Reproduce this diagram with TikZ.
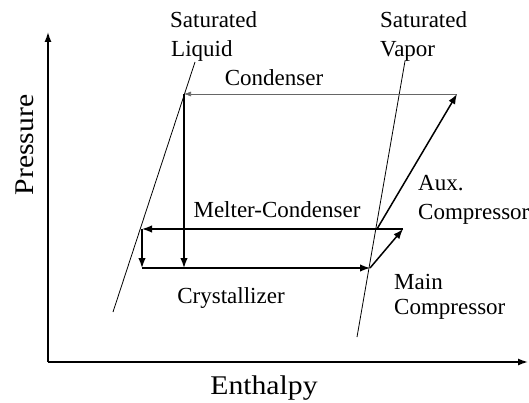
\documentclass[tikz,border=0pt]{standalone}
\usepackage{fontspec}
\setmainfont{Liberation Serif}
\newfontfamily\bigserif{Liberation Serif}[FakeStretch=1.1]
\usetikzlibrary{arrows.meta}
\begin{document}
\begin{tikzpicture}[x=1pt,y=-1pt,
  lbl/.style={inner sep=0pt,anchor=base,font=\fontsize{23}{29}\selectfont},
  lblw/.style={lbl,anchor=base west},
  big/.style={inner sep=0pt,anchor=base,font=\bigserif\fontsize{27}{32}\selectfont},
  satline/.style={line width=0.8pt},
  axis/.style={line width=1.4pt,-{Latex[length=10pt,width=7pt]}},
  flow/.style={line width=1.5pt,-{Latex[length=10pt,width=7.5pt]}},
  thinflow/.style={line width=0.6pt,draw=black!60,-{Latex[length=7pt,width=5pt]}}]
\useasboundingbox (0,0) rectangle (529,403);
% axes
\coordinate (O) at (48,362);
\coordinate (Ytop) at (48,32);
\coordinate (Xend) at (528,362);
\draw[axis] (O) -- (Ytop);
\draw[axis] (O) -- (Xend);
\node[big,rotate=90] (pres) at (33,145) {Pressure};
\node[big] (enth) at (264,394) {Enthalpy};
% saturation lines
\coordinate (L1) at (195,62);
\coordinate (L2) at (113,312);
\coordinate (V1) at (405,61);
\coordinate (V2) at (357,337);
\draw[satline] (L1) -- (L2);
\draw[satline] (V1) -- (V2);
% cycle points
\coordinate (A) at (184,94);
\coordinate (B) at (457,94);
\coordinate (C) at (142,229);
\coordinate (D) at (403,229);
\coordinate (E) at (377,229);
\coordinate (F) at (142,268);
\coordinate (G) at (370,268);
\coordinate (H) at (184,268);
\draw[thinflow] (B) -- (A);
\draw[flow] (A) -- (H);
\draw[flow] (D) -- (C);
\draw[flow] (C) -- (F);
\draw[line width=1.5pt] (F) -- (H);
\draw[flow] (H) -- (G);
\draw[flow] (G) -- (D);
\draw[flow] (E) -- (B);
% labels
\node[lblw] (sl1) at (170,28) {Saturated};
\node[lblw] (sl2) at (171,57) {Liquid};
\node[lblw] (sv1) at (380,28) {Saturated};
\node[lblw] (sv2) at (380,57) {Vapor};
\node[lbl] (cond) at (274,86) {Condenser};
\node[lbl] (melt) at (277,217) {Melter-Condenser};
\node[lbl] (cry) at (231,303) {Crystallizer};
\node[lblw] (aux) at (418,190) {Aux.};
\node[lblw] (auxc) at (418,219) {Compressor};
\node[lblw] (main) at (394,289) {Main};
\node[lblw] (mainc) at (394,314) {Compressor};
\end{tikzpicture}
\end{document}
